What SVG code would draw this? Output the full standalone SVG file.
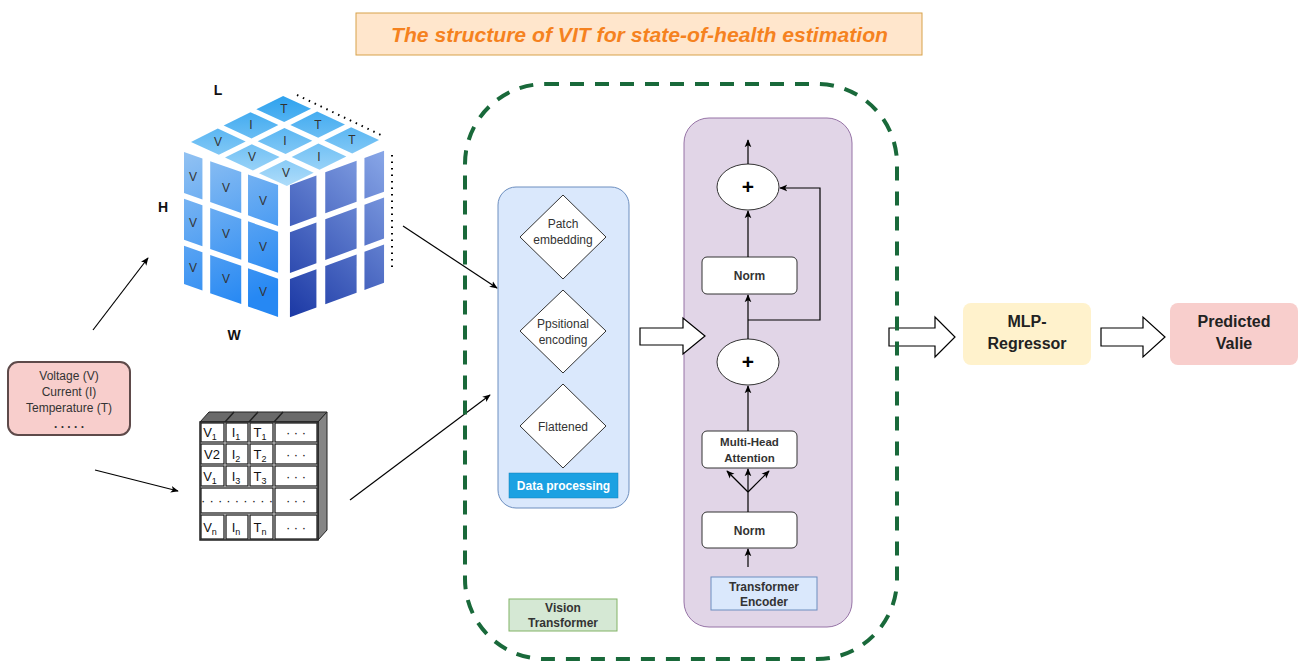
<svg xmlns="http://www.w3.org/2000/svg" width="1299" height="662" viewBox="0 0 1299 662">
  <style>
    text { font-family: "Liberation Sans", Arial, sans-serif; fill: #333; }
    .c { text-anchor: middle; }
    .b { font-weight: bold; }
    .s12 { font-size: 12px; }
    .s11 { font-size: 11.5px; }
    .ln { fill: none; stroke: #000; stroke-width: 1.2; }
    .la { fill: none; stroke: #000; stroke-width: 1.2; marker-end: url(#ah); }
    .blk { fill: #fff; stroke: #000; stroke-width: 1.2; stroke-linejoin: miter; }
    .box { fill: #fff; stroke: #333; stroke-width: 1; }
    .cell { fill: #fff; stroke: #222; stroke-width: 1.3; }
    .dot { fill: none; stroke: #000; stroke-width: 2; stroke-dasharray: 1.5 5; }
  </style>
  <defs>
    <marker id="ah" viewBox="0 0 10 10" refX="9" refY="5" markerWidth="8" markerHeight="8" markerUnits="userSpaceOnUse" orient="auto">
      <path d="M0,0.8 L10,5 L0,9.2 L2.5,5 Z" fill="#000"/>
    </marker>
    <linearGradient id="gTop" gradientUnits="userSpaceOnUse" x1="0" y1="0" x2="3" y2="3">
      <stop offset="0" stop-color="#2aa0ee"/>
      <stop offset="1" stop-color="#b2defa"/>
    </linearGradient>
    <linearGradient id="gLeft" gradientUnits="userSpaceOnUse" x1="0" y1="0" x2="0.6" y2="1">
      <stop offset="0" stop-color="#92c2f2"/>
      <stop offset="1" stop-color="#2688f3"/>
    </linearGradient>
    <linearGradient id="gRight" gradientUnits="userSpaceOnUse" x1="1" y1="0" x2="0" y2="1">
      <stop offset="0" stop-color="#8aa8e8"/>
      <stop offset="1" stop-color="#1a37a4"/>
    </linearGradient>
  </defs>

  <rect width="1299" height="662" fill="#fff"/>

  <!-- title banner -->
  <g id="title">
    <rect x="356" y="13" width="566" height="42" fill="#ffe6cc" stroke="#d7a24a" stroke-width="1"/>
    <text x="639.5" y="42" class="c b" font-size="21" font-style="italic" textLength="497" lengthAdjust="spacingAndGlyphs" style="fill:#f5821f">The structure of VIT for state-of-health estimation</text>
  </g>

  <!-- input signals -->
  <g id="inputs">
    <rect x="8" y="362" width="122" height="73" rx="10" fill="#f8cecc" stroke="#5e4a4a" stroke-width="2"/>
    <text x="69" y="380" class="c s12">Voltage (V)</text>
    <text x="69" y="396" class="c s12">Current (I)</text>
    <text x="69" y="412" class="c s12">Temperature (T)</text>
    <text x="69" y="428" class="c s12 b">. . . . .</text>
  </g>

  <!-- data cube L x H x W -->
  <g id="cube">
    <g transform="matrix(34,15.667,-32.667,16.333,283,93)" fill="url(#gTop)">
      <rect x="0.09" y="0.09" width="0.82" height="0.82"/>
      <rect x="1.09" y="0.09" width="0.82" height="0.82"/>
      <rect x="2.09" y="0.09" width="0.82" height="0.82"/>
      <rect x="0.09" y="1.09" width="0.82" height="0.82"/>
      <rect x="1.09" y="1.09" width="0.82" height="0.82"/>
      <rect x="2.09" y="1.09" width="0.82" height="0.82"/>
      <rect x="0.09" y="2.09" width="0.82" height="0.82"/>
      <rect x="1.09" y="2.09" width="0.82" height="0.82"/>
      <rect x="2.09" y="2.09" width="0.82" height="0.82"/>
    </g>
    <g transform="matrix(97,34,0,132,184,152)" fill="url(#gLeft)">
      <rect x="0" y="0" width="0.19" height="0.31"/>
      <rect x="0" y="0.355" width="0.19" height="0.31"/>
      <rect x="0" y="0.71" width="0.19" height="0.29"/>
      <rect x="0.27" y="0" width="0.32" height="0.31"/>
      <rect x="0.27" y="0.355" width="0.32" height="0.31"/>
      <rect x="0.27" y="0.71" width="0.32" height="0.29"/>
      <rect x="0.66" y="0" width="0.31" height="0.31"/>
      <rect x="0.66" y="0.355" width="0.31" height="0.31"/>
      <rect x="0.66" y="0.71" width="0.31" height="0.29"/>
    </g>
    <g transform="matrix(98,-36,0,132,288,186)" fill="url(#gRight)">
      <rect x="0.02" y="0" width="0.27" height="0.31"/>
      <rect x="0.02" y="0.355" width="0.27" height="0.31"/>
      <rect x="0.02" y="0.71" width="0.27" height="0.29"/>
      <rect x="0.38" y="0" width="0.32" height="0.31"/>
      <rect x="0.38" y="0.355" width="0.32" height="0.31"/>
      <rect x="0.38" y="0.71" width="0.32" height="0.29"/>
      <rect x="0.78" y="0" width="0.2" height="0.31"/>
      <rect x="0.78" y="0.355" width="0.2" height="0.31"/>
      <rect x="0.78" y="0.71" width="0.2" height="0.29"/>
    </g>
    <!-- top face labels -->
    <text x="284" y="113" class="c s12">T</text>
    <text x="318" y="129" class="c s12">T</text>
    <text x="352" y="144" class="c s12">T</text>
    <text x="251" y="129" class="c s12">I</text>
    <text x="285" y="145" class="c s12">I</text>
    <text x="319" y="161" class="c s12">I</text>
    <text x="218" y="146" class="c s12">V</text>
    <text x="252" y="161" class="c s12">V</text>
    <text x="286" y="177" class="c s12">V</text>
    <!-- left face labels -->
    <text x="193" y="181" class="c s12">V</text>
    <text x="193" y="227" class="c s12">V</text>
    <text x="193" y="272" class="c s12">V</text>
    <text x="226" y="192" class="c s12">V</text>
    <text x="226" y="238" class="c s12">V</text>
    <text x="226" y="283" class="c s12">V</text>
    <text x="263" y="205" class="c s12">V</text>
    <text x="263" y="251" class="c s12">V</text>
    <text x="263" y="296" class="c s12">V</text>
    <!-- hidden edges -->
    <line x1="297" y1="95" x2="383" y2="136" class="dot"/>
    <line x1="392" y1="155" x2="392" y2="270" class="dot"/>
    <!-- axis letters -->
    <text x="218" y="95" class="c b" font-size="14" style="fill:#111">L</text>
    <text x="163" y="212" class="c b" font-size="14" style="fill:#111">H</text>
    <text x="234" y="340" class="c b" font-size="14" style="fill:#111">W</text>
  </g>

  <!-- sample table -->
  <g id="table">
    <polygon points="200,422 209,412 327,412 318,422" fill="#6a6a6a" stroke="#222" stroke-width="1"/>
    <polygon points="318,422 327,412 327,530 318,540" fill="#858585" stroke="#222" stroke-width="1"/>
    <path d="M225,422 L234,412 M249,422 L258,412 M274,422 L283,412" stroke="#222" stroke-width="1.5"/>
    <rect x="200" y="422" width="118" height="118" fill="#fff" stroke="#222" stroke-width="1.5"/>
    <g>
      <rect class="cell" x="201" y="423" width="23" height="19"/><rect class="cell" x="226" y="423" width="22" height="19"/><rect class="cell" x="250" y="423" width="23" height="19"/><rect class="cell" x="275" y="423" width="42" height="19"/>
      <rect class="cell" x="201" y="444" width="23" height="20"/><rect class="cell" x="226" y="444" width="22" height="20"/><rect class="cell" x="250" y="444" width="23" height="20"/><rect class="cell" x="275" y="444" width="42" height="20"/>
      <rect class="cell" x="201" y="466" width="23" height="20"/><rect class="cell" x="226" y="466" width="22" height="20"/><rect class="cell" x="250" y="466" width="23" height="20"/><rect class="cell" x="275" y="466" width="42" height="20"/>
      <rect class="cell" x="201" y="488" width="72" height="25"/><rect class="cell" x="275" y="488" width="42" height="25"/>
      <rect class="cell" x="201" y="515" width="23" height="24"/><rect class="cell" x="226" y="515" width="22" height="24"/><rect class="cell" x="250" y="515" width="23" height="24"/><rect class="cell" x="275" y="515" width="42" height="24"/>
    </g>
    <g font-size="13">
      <text x="210" y="437" class="c" style="fill:#111">V<tspan font-size="9" dy="3">1</tspan></text>
      <text x="236" y="437" class="c" style="fill:#111">I<tspan font-size="9" dy="3">1</tspan></text>
      <text x="260" y="437" class="c" style="fill:#111">T<tspan font-size="9" dy="3">1</tspan></text>
      <text x="212" y="459" class="c" style="fill:#111">V2</text>
      <text x="236" y="459" class="c" style="fill:#111">I<tspan font-size="9" dy="3">2</tspan></text>
      <text x="260" y="459" class="c" style="fill:#111">T<tspan font-size="9" dy="3">2</tspan></text>
      <text x="210" y="481" class="c" style="fill:#111">V<tspan font-size="9" dy="3">1</tspan></text>
      <text x="236" y="481" class="c" style="fill:#111">I<tspan font-size="9" dy="3">3</tspan></text>
      <text x="260" y="481" class="c" style="fill:#111">T<tspan font-size="9" dy="3">3</tspan></text>
      <text x="210" y="532" class="c" style="fill:#111">V<tspan font-size="9" dy="3">n</tspan></text>
      <text x="236" y="532" class="c" style="fill:#111">I<tspan font-size="9" dy="3">n</tspan></text>
      <text x="260" y="532" class="c" style="fill:#111">T<tspan font-size="9" dy="3">n</tspan></text>
      <text x="296" y="437" class="c" style="fill:#111">· · ·</text>
      <text x="296" y="459" class="c" style="fill:#111">· · ·</text>
      <text x="296" y="481" class="c" style="fill:#111">· · ·</text>
      <text x="296" y="505" class="c" style="fill:#111">· · ·</text>
      <text x="296" y="532" class="c" style="fill:#111">· · ·</text>
      <text x="237" y="505" class="c" style="fill:#111" textLength="72" lengthAdjust="spacing">· · · · · · · · ·</text>
    </g>
  </g>

  <!-- data processing stage -->
  <g id="data-processing">
    <rect x="498" y="187" width="131" height="321" rx="18" fill="#dae8fc" stroke="#6c8ebf" stroke-width="1"/>
    <polygon points="563,195 606,237 563,279 520,237" class="box"/>
    <text x="563" y="228" class="c s12">Patch</text>
    <text x="563" y="244" class="c s12">embedding</text>
    <polygon points="563,290 606,331 563,373 520,331" class="box"/>
    <text x="563" y="328" class="c s12">Ppsitional</text>
    <text x="563" y="344" class="c s12">encoding</text>
    <polygon points="563,384 606,426 563,468 520,426" class="box"/>
    <text x="563" y="431" class="c s12">Flattened</text>
    <rect x="509" y="473" width="109" height="25" fill="#1ba1e2" stroke="#1380b8" stroke-width="0.5"/>
    <text x="563.5" y="490" class="c b s12" style="fill:#fff">Data processing</text>
  </g>

  <!-- transformer encoder -->
  <g id="transformer-encoder">
    <rect x="684" y="118" width="168" height="509" rx="25" fill="#e1d5e7" stroke="#9673a6" stroke-width="1"/>
    <ellipse cx="748" cy="187" rx="31" ry="23" class="box"/>
    <text x="748" y="194" class="c b" font-size="21" style="fill:#000">+</text>
    <rect x="702" y="257" width="95" height="37" rx="5" class="box"/>
    <text x="749.5" y="280" class="c b s12">Norm</text>
    <ellipse cx="748" cy="362" rx="31" ry="23" class="box"/>
    <text x="748" y="369" class="c b" font-size="21" style="fill:#000">+</text>
    <rect x="702" y="431" width="95" height="37" rx="5" class="box"/>
    <text x="749.5" y="446" class="c b s11">Multi-Head</text>
    <text x="749.5" y="462" class="c b s11">Attention</text>
    <rect x="702" y="512" width="95" height="36" rx="5" class="box"/>
    <text x="749.5" y="535" class="c b s12">Norm</text>
    <rect x="711" y="577" width="106" height="33" fill="#dae8fc" stroke="#6c8ebf" stroke-width="1"/>
    <text x="764" y="591" class="c b s12">Transformer</text>
    <text x="764" y="606" class="c b s12">Encoder</text>
  </g>

  <!-- stage labels -->
  <g id="vision-transformer">
    <rect x="509" y="599" width="108" height="32" fill="#d5e8d4" stroke="#82b366" stroke-width="1"/>
    <text x="563" y="612" class="c b s12">Vision</text>
    <text x="563" y="627" class="c b s12">Transformer</text>
  </g>

  <!-- output stages -->
  <g id="mlp-regressor">
    <rect x="963" y="303" width="128" height="62" rx="8" fill="#fff2cc"/>
    <text x="1027" y="327" class="c b" font-size="16" style="fill:#222">MLP-</text>
    <text x="1027" y="349" class="c b" font-size="16" style="fill:#222">Regressor</text>
  </g>
  <g id="predicted-value">
    <rect x="1170" y="303" width="128" height="62" rx="8" fill="#f8cecc"/>
    <text x="1234" y="327" class="c b" font-size="16" style="fill:#222">Predicted</text>
    <text x="1234" y="349" class="c b" font-size="16" style="fill:#222">Valie</text>
  </g>

  <!-- connectors -->
  <g id="connectors">
    <line x1="93" y1="330" x2="148" y2="258" class="la"/>
    <line x1="95" y1="470" x2="178" y2="491" class="la"/>
    <line x1="350" y1="500" x2="490" y2="395" class="la"/>
    <line x1="403" y1="226" x2="497" y2="288" class="la"/>

    <path d="M640,328 H683 V318 L705,336 L683,354 V345 H640 Z" class="blk"/>
    <path d="M889,328 H935 V317 L955,337 L935,357 V346 H889 Z" class="blk"/>
    <path d="M1101,328 H1143 V317 L1165,337 L1143,357 V346 H1101 Z" class="blk"/>

    <line x1="748" y1="164" x2="748" y2="140" class="la"/>
    <line x1="748" y1="257" x2="748" y2="211" class="la"/>
    <line x1="748" y1="339" x2="748" y2="295" class="la"/>
    <path d="M748,320 H820 V188 H780" class="la"/>
    <line x1="748" y1="431" x2="748" y2="386" class="la"/>
    <line x1="748" y1="512" x2="748" y2="492" class="ln"/>
    <line x1="748" y1="492" x2="727" y2="471" class="la"/>
    <line x1="748" y1="492" x2="748" y2="469" class="la"/>
    <line x1="748" y1="492" x2="769" y2="471" class="la"/>
    <line x1="748" y1="567" x2="748" y2="549" class="la"/>
  </g>

  <!-- vision transformer boundary -->
  <g id="vit-boundary">
    <rect x="465" y="84" width="432" height="575" rx="80" fill="none" stroke="#19693a" stroke-width="4" stroke-dasharray="14 11"/>
  </g>
</svg>
